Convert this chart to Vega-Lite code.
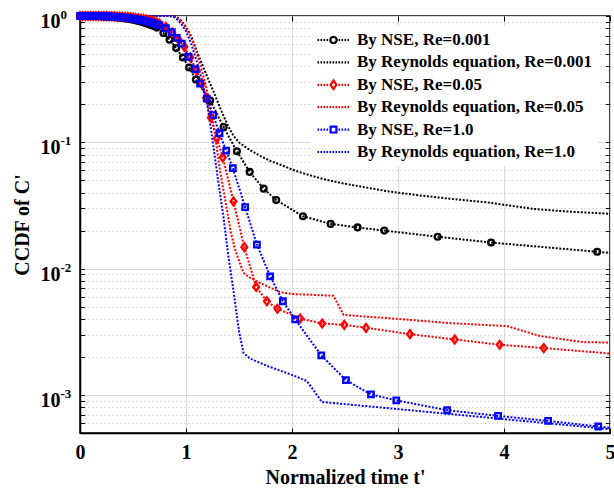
{
  "$schema": "https://vega.github.io/schema/vega-lite/v6.json",
  "width": 530,
  "height": 417,
  "autosize": {"type": "none"},
  "padding": {"left": 80, "top": 16, "right": 4, "bottom": 56},
  "background": "white",
  "config": {
    "font": "Liberation Serif",
    "view": {"stroke": "black", "strokeWidth": 1.5}
  },
  "datasets": {
    "curves": [
      {"s":"By NSE, Re=0.001","t":0,"c":1},{"s":"By NSE, Re=0.001","t":0.025,"c":1},{"s":"By NSE, Re=0.001","t":0.05,"c":1},{"s":"By NSE, Re=0.001","t":0.075,"c":1},{"s":"By NSE, Re=0.001","t":0.1,"c":0.999},{"s":"By NSE, Re=0.001","t":0.125,"c":0.998},{"s":"By NSE, Re=0.001","t":0.15,"c":0.997},{"s":"By NSE, Re=0.001","t":0.175,"c":0.996},{"s":"By NSE, Re=0.001","t":0.2,"c":0.995},{"s":"By NSE, Re=0.001","t":0.225,"c":0.993},{"s":"By NSE, Re=0.001","t":0.25,"c":0.99},{"s":"By NSE, Re=0.001","t":0.275,"c":0.987},{"s":"By NSE, Re=0.001","t":0.3,"c":0.984},{"s":"By NSE, Re=0.001","t":0.325,"c":0.98},{"s":"By NSE, Re=0.001","t":0.35,"c":0.975},{"s":"By NSE, Re=0.001","t":0.375,"c":0.97},{"s":"By NSE, Re=0.001","t":0.4,"c":0.964},{"s":"By NSE, Re=0.001","t":0.425,"c":0.957},{"s":"By NSE, Re=0.001","t":0.45,"c":0.95},{"s":"By NSE, Re=0.001","t":0.475,"c":0.942},{"s":"By NSE, Re=0.001","t":0.5,"c":0.933},{"s":"By NSE, Re=0.001","t":0.525,"c":0.924},{"s":"By NSE, Re=0.001","t":0.55,"c":0.913},{"s":"By NSE, Re=0.001","t":0.575,"c":0.902},{"s":"By NSE, Re=0.001","t":0.6,"c":0.89},{"s":"By NSE, Re=0.001","t":0.625,"c":0.876},{"s":"By NSE, Re=0.001","t":0.65,"c":0.862},{"s":"By NSE, Re=0.001","t":0.675,"c":0.846},{"s":"By NSE, Re=0.001","t":0.7,"c":0.83},{"s":"By NSE, Re=0.001","t":0.724,"c":0.81},{"s":"By NSE, Re=0.001","t":0.787,"c":0.733},{"s":"By NSE, Re=0.001","t":0.845,"c":0.65},{"s":"By NSE, Re=0.001","t":0.907,"c":0.557},{"s":"By NSE, Re=0.001","t":0.97,"c":0.469},{"s":"By NSE, Re=0.001","t":1.029,"c":0.391},{"s":"By NSE, Re=0.001","t":1.093,"c":0.314},{"s":"By NSE, Re=0.001","t":1.228,"c":0.214},{"s":"By NSE, Re=0.001","t":1.355,"c":0.132},{"s":"By NSE, Re=0.001","t":1.48,"c":0.0849},{"s":"By NSE, Re=0.001","t":1.601,"c":0.0583},{"s":"By NSE, Re=0.001","t":1.733,"c":0.043},{"s":"By NSE, Re=0.001","t":1.851,"c":0.0349},{"s":"By NSE, Re=0.001","t":2.103,"c":0.026},{"s":"By NSE, Re=0.001","t":2.365,"c":0.0226},{"s":"By NSE, Re=0.001","t":2.619,"c":0.0212},{"s":"By NSE, Re=0.001","t":2.871,"c":0.02},{"s":"By NSE, Re=0.001","t":3.374,"c":0.0179},{"s":"By NSE, Re=0.001","t":3.878,"c":0.0161},{"s":"By NSE, Re=0.001","t":4.879,"c":0.0136},{"s":"By NSE, Re=0.001","t":5,"c":0.0133},

      {"s":"By Reynolds equation, Re=0.001","t":0,"c":1},{"s":"By Reynolds equation, Re=0.001","t":0.5,"c":1},{"s":"By Reynolds equation, Re=0.001","t":0.85,"c":1},{"s":"By Reynolds equation, Re=0.001","t":0.9,"c":0.99},{"s":"By Reynolds equation, Re=0.001","t":0.95,"c":0.93},{"s":"By Reynolds equation, Re=0.001","t":1.0,"c":0.82},{"s":"By Reynolds equation, Re=0.001","t":1.05,"c":0.69},{"s":"By Reynolds equation, Re=0.001","t":1.117,"c":0.49},{"s":"By Reynolds equation, Re=0.001","t":1.2,"c":0.33},{"s":"By Reynolds equation, Re=0.001","t":1.275,"c":0.235},{"s":"By Reynolds equation, Re=0.001","t":1.33,"c":0.18},{"s":"By Reynolds equation, Re=0.001","t":1.4,"c":0.133},{"s":"By Reynolds equation, Re=0.001","t":1.45,"c":0.112},{"s":"By Reynolds equation, Re=0.001","t":1.5,"c":0.1},{"s":"By Reynolds equation, Re=0.001","t":1.6,"c":0.087},{"s":"By Reynolds equation, Re=0.001","t":1.7,"c":0.078},{"s":"By Reynolds equation, Re=0.001","t":1.8,"c":0.071},{"s":"By Reynolds equation, Re=0.001","t":1.9,"c":0.066},{"s":"By Reynolds equation, Re=0.001","t":2.0,"c":0.061},{"s":"By Reynolds equation, Re=0.001","t":2.1,"c":0.057},{"s":"By Reynolds equation, Re=0.001","t":2.3,"c":0.051},{"s":"By Reynolds equation, Re=0.001","t":2.5,"c":0.047},{"s":"By Reynolds equation, Re=0.001","t":2.9,"c":0.041},{"s":"By Reynolds equation, Re=0.001","t":3.2,"c":0.038},{"s":"By Reynolds equation, Re=0.001","t":3.5,"c":0.0357},{"s":"By Reynolds equation, Re=0.001","t":3.85,"c":0.0334},{"s":"By Reynolds equation, Re=0.001","t":4.0,"c":0.032},{"s":"By Reynolds equation, Re=0.001","t":4.3,"c":0.0296},{"s":"By Reynolds equation, Re=0.001","t":4.6,"c":0.0283},{"s":"By Reynolds equation, Re=0.001","t":5,"c":0.0272},

      {"s":"By NSE, Re=0.05","t":0,"c":1},{"s":"By NSE, Re=0.05","t":0.025,"c":1},{"s":"By NSE, Re=0.05","t":0.05,"c":1},{"s":"By NSE, Re=0.05","t":0.075,"c":1},{"s":"By NSE, Re=0.05","t":0.1,"c":1},{"s":"By NSE, Re=0.05","t":0.125,"c":1},{"s":"By NSE, Re=0.05","t":0.15,"c":1},{"s":"By NSE, Re=0.05","t":0.175,"c":0.999},{"s":"By NSE, Re=0.05","t":0.2,"c":0.999},{"s":"By NSE, Re=0.05","t":0.225,"c":0.998},{"s":"By NSE, Re=0.05","t":0.25,"c":0.997},{"s":"By NSE, Re=0.05","t":0.275,"c":0.996},{"s":"By NSE, Re=0.05","t":0.3,"c":0.995},{"s":"By NSE, Re=0.05","t":0.325,"c":0.993},{"s":"By NSE, Re=0.05","t":0.35,"c":0.991},{"s":"By NSE, Re=0.05","t":0.375,"c":0.989},{"s":"By NSE, Re=0.05","t":0.4,"c":0.986},{"s":"By NSE, Re=0.05","t":0.425,"c":0.983},{"s":"By NSE, Re=0.05","t":0.45,"c":0.979},{"s":"By NSE, Re=0.05","t":0.475,"c":0.975},{"s":"By NSE, Re=0.05","t":0.5,"c":0.97},{"s":"By NSE, Re=0.05","t":0.525,"c":0.965},{"s":"By NSE, Re=0.05","t":0.55,"c":0.959},{"s":"By NSE, Re=0.05","t":0.575,"c":0.952},{"s":"By NSE, Re=0.05","t":0.6,"c":0.945},{"s":"By NSE, Re=0.05","t":0.625,"c":0.936},{"s":"By NSE, Re=0.05","t":0.65,"c":0.926},{"s":"By NSE, Re=0.05","t":0.675,"c":0.915},{"s":"By NSE, Re=0.05","t":0.7,"c":0.902},{"s":"By NSE, Re=0.05","t":0.725,"c":0.887},{"s":"By NSE, Re=0.05","t":0.75,"c":0.87},{"s":"By NSE, Re=0.05","t":0.81,"c":0.82},{"s":"By NSE, Re=0.05","t":0.87,"c":0.74},{"s":"By NSE, Re=0.05","t":0.93,"c":0.65},{"s":"By NSE, Re=0.05","t":0.985,"c":0.57},{"s":"By NSE, Re=0.05","t":1.04,"c":0.47},{"s":"By NSE, Re=0.05","t":1.1,"c":0.37},{"s":"By NSE, Re=0.05","t":1.15,"c":0.29},{"s":"By NSE, Re=0.05","t":1.19,"c":0.225},{"s":"By NSE, Re=0.05","t":1.234,"c":0.157},{"s":"By NSE, Re=0.05","t":1.29,"c":0.1075},{"s":"By NSE, Re=0.05","t":1.347,"c":0.076},{"s":"By NSE, Re=0.05","t":1.448,"c":0.034},{"s":"By NSE, Re=0.05","t":1.55,"c":0.0148},{"s":"By NSE, Re=0.05","t":1.662,"c":0.00717},{"s":"By NSE, Re=0.05","t":1.763,"c":0.00552},{"s":"By NSE, Re=0.05","t":1.863,"c":0.00481},{"s":"By NSE, Re=0.05","t":2.077,"c":0.00403},{"s":"By NSE, Re=0.05","t":2.285,"c":0.00368},{"s":"By NSE, Re=0.05","t":2.493,"c":0.00359},{"s":"By NSE, Re=0.05","t":2.698,"c":0.0034},{"s":"By NSE, Re=0.05","t":3.113,"c":0.00303},{"s":"By NSE, Re=0.05","t":3.535,"c":0.00275},{"s":"By NSE, Re=0.05","t":3.959,"c":0.0025},{"s":"By NSE, Re=0.05","t":4.375,"c":0.00235},{"s":"By NSE, Re=0.05","t":5,"c":0.00213},

      {"s":"By Reynolds equation, Re=0.05","t":0,"c":1},{"s":"By Reynolds equation, Re=0.05","t":0.5,"c":1},{"s":"By Reynolds equation, Re=0.05","t":0.87,"c":1},{"s":"By Reynolds equation, Re=0.05","t":0.92,"c":0.97},{"s":"By Reynolds equation, Re=0.05","t":0.97,"c":0.88},{"s":"By Reynolds equation, Re=0.05","t":1.02,"c":0.76},{"s":"By Reynolds equation, Re=0.05","t":1.07,"c":0.61},{"s":"By Reynolds equation, Re=0.05","t":1.12,"c":0.45},{"s":"By Reynolds equation, Re=0.05","t":1.17,"c":0.32},{"s":"By Reynolds equation, Re=0.05","t":1.22,"c":0.216},{"s":"By Reynolds equation, Re=0.05","t":1.27,"c":0.12},{"s":"By Reynolds equation, Re=0.05","t":1.32,"c":0.06},{"s":"By Reynolds equation, Re=0.05","t":1.37,"c":0.035},{"s":"By Reynolds equation, Re=0.05","t":1.42,"c":0.02},{"s":"By Reynolds equation, Re=0.05","t":1.46,"c":0.0145},{"s":"By Reynolds equation, Re=0.05","t":1.5,"c":0.0115},{"s":"By Reynolds equation, Re=0.05","t":1.542,"c":0.0093},{"s":"By Reynolds equation, Re=0.05","t":1.6,"c":0.0085},{"s":"By Reynolds equation, Re=0.05","t":1.7,"c":0.0077},{"s":"By Reynolds equation, Re=0.05","t":1.889,"c":0.0065},{"s":"By Reynolds equation, Re=0.05","t":2.0,"c":0.0063},{"s":"By Reynolds equation, Re=0.05","t":2.392,"c":0.0061},{"s":"By Reynolds equation, Re=0.05","t":2.487,"c":0.0043},{"s":"By Reynolds equation, Re=0.05","t":3.0,"c":0.004},{"s":"By Reynolds equation, Re=0.05","t":3.5,"c":0.0037},{"s":"By Reynolds equation, Re=0.05","t":4.03,"c":0.00351},{"s":"By Reynolds equation, Re=0.05","t":4.344,"c":0.00292},{"s":"By Reynolds equation, Re=0.05","t":4.752,"c":0.00262},{"s":"By Reynolds equation, Re=0.05","t":5,"c":0.0026},

      {"s":"By NSE, Re=1.0","t":0,"c":1},{"s":"By NSE, Re=1.0","t":0.025,"c":1},{"s":"By NSE, Re=1.0","t":0.05,"c":1},{"s":"By NSE, Re=1.0","t":0.075,"c":1},{"s":"By NSE, Re=1.0","t":0.1,"c":0.999},{"s":"By NSE, Re=1.0","t":0.125,"c":0.999},{"s":"By NSE, Re=1.0","t":0.15,"c":0.998},{"s":"By NSE, Re=1.0","t":0.175,"c":0.997},{"s":"By NSE, Re=1.0","t":0.2,"c":0.996},{"s":"By NSE, Re=1.0","t":0.225,"c":0.995},{"s":"By NSE, Re=1.0","t":0.25,"c":0.993},{"s":"By NSE, Re=1.0","t":0.275,"c":0.991},{"s":"By NSE, Re=1.0","t":0.3,"c":0.989},{"s":"By NSE, Re=1.0","t":0.325,"c":0.986},{"s":"By NSE, Re=1.0","t":0.35,"c":0.983},{"s":"By NSE, Re=1.0","t":0.375,"c":0.979},{"s":"By NSE, Re=1.0","t":0.4,"c":0.975},{"s":"By NSE, Re=1.0","t":0.425,"c":0.97},{"s":"By NSE, Re=1.0","t":0.45,"c":0.965},{"s":"By NSE, Re=1.0","t":0.475,"c":0.959},{"s":"By NSE, Re=1.0","t":0.5,"c":0.953},{"s":"By NSE, Re=1.0","t":0.525,"c":0.946},{"s":"By NSE, Re=1.0","t":0.55,"c":0.938},{"s":"By NSE, Re=1.0","t":0.575,"c":0.93},{"s":"By NSE, Re=1.0","t":0.6,"c":0.921},{"s":"By NSE, Re=1.0","t":0.625,"c":0.911},{"s":"By NSE, Re=1.0","t":0.65,"c":0.9},{"s":"By NSE, Re=1.0","t":0.675,"c":0.888},{"s":"By NSE, Re=1.0","t":0.7,"c":0.875},{"s":"By NSE, Re=1.0","t":0.725,"c":0.86},{"s":"By NSE, Re=1.0","t":0.75,"c":0.845},{"s":"By NSE, Re=1.0","t":0.81,"c":0.8},{"s":"By NSE, Re=1.0","t":0.866,"c":0.746},{"s":"By NSE, Re=1.0","t":0.913,"c":0.67},{"s":"By NSE, Re=1.0","t":0.96,"c":0.604},{"s":"By NSE, Re=1.0","t":1.023,"c":0.474},{"s":"By NSE, Re=1.0","t":1.086,"c":0.38},{"s":"By NSE, Re=1.0","t":1.133,"c":0.292},{"s":"By NSE, Re=1.0","t":1.196,"c":0.222},{"s":"By NSE, Re=1.0","t":1.256,"c":0.164},{"s":"By NSE, Re=1.0","t":1.316,"c":0.118},{"s":"By NSE, Re=1.0","t":1.379,"c":0.0859},{"s":"By NSE, Re=1.0","t":1.442,"c":0.0624},{"s":"By NSE, Re=1.0","t":1.558,"c":0.0307},{"s":"By NSE, Re=1.0","t":1.669,"c":0.0155},{"s":"By NSE, Re=1.0","t":1.794,"c":0.00869},{"s":"By NSE, Re=1.0","t":1.914,"c":0.00552},{"s":"By NSE, Re=1.0","t":2.03,"c":0.00396},{"s":"By NSE, Re=1.0","t":2.276,"c":0.00206},{"s":"By NSE, Re=1.0","t":2.509,"c":0.00131},{"s":"By NSE, Re=1.0","t":2.745,"c":0.00101},{"s":"By NSE, Re=1.0","t":2.984,"c":0.000908},{"s":"By NSE, Re=1.0","t":3.463,"c":0.000757},{"s":"By NSE, Re=1.0","t":3.944,"c":0.000683},{"s":"By NSE, Re=1.0","t":4.416,"c":0.000623},{"s":"By NSE, Re=1.0","t":4.889,"c":0.000563},{"s":"By NSE, Re=1.0","t":5,"c":0.00055},

      {"s":"By Reynolds equation, Re=1.0","t":0,"c":1},{"s":"By Reynolds equation, Re=1.0","t":0.5,"c":1},{"s":"By Reynolds equation, Re=1.0","t":0.85,"c":1},{"s":"By Reynolds equation, Re=1.0","t":0.9,"c":0.97},{"s":"By Reynolds equation, Re=1.0","t":0.95,"c":0.88},{"s":"By Reynolds equation, Re=1.0","t":1.0,"c":0.76},{"s":"By Reynolds equation, Re=1.0","t":1.05,"c":0.6},{"s":"By Reynolds equation, Re=1.0","t":1.1,"c":0.44},{"s":"By Reynolds equation, Re=1.0","t":1.15,"c":0.31},{"s":"By Reynolds equation, Re=1.0","t":1.2,"c":0.2},{"s":"By Reynolds equation, Re=1.0","t":1.25,"c":0.105},{"s":"By Reynolds equation, Re=1.0","t":1.3,"c":0.052},{"s":"By Reynolds equation, Re=1.0","t":1.35,"c":0.027},{"s":"By Reynolds equation, Re=1.0","t":1.4,"c":0.0125},{"s":"By Reynolds equation, Re=1.0","t":1.45,"c":0.0065},{"s":"By Reynolds equation, Re=1.0","t":1.5,"c":0.0032},{"s":"By Reynolds equation, Re=1.0","t":1.542,"c":0.00216},{"s":"By Reynolds equation, Re=1.0","t":1.6,"c":0.00195},{"s":"By Reynolds equation, Re=1.0","t":1.763,"c":0.0017},{"s":"By Reynolds equation, Re=1.0","t":1.983,"c":0.00146},{"s":"By Reynolds equation, Re=1.0","t":2.14,"c":0.00129},{"s":"By Reynolds equation, Re=1.0","t":2.2,"c":0.0011},{"s":"By Reynolds equation, Re=1.0","t":2.282,"c":0.00088},{"s":"By Reynolds equation, Re=1.0","t":3.02,"c":0.00077},{"s":"By Reynolds equation, Re=1.0","t":4.28,"c":0.000612},{"s":"By Reynolds equation, Re=1.0","t":5,"c":0.000536}
    ]
  },
  "data": {"name": "curves"},
  "resolve": {"axis": {"x": "independent", "y": "independent"}},
  "layer": [
    {
      "mark": {"type": "line", "strokeWidth": 2, "strokeDash": [2, 1.6]},
      "encoding": {
        "x": {
          "field": "t", "type": "quantitative",
          "scale": {"domain": [0, 5], "nice": false, "zero": false},
          "axis": {
            "orient": "bottom", "values": [0, 1, 2, 3, 4, 5], "format": "d",
            "grid": true, "gridColor": "#dadada", "gridWidth": 1,
            "tickSize": -5, "tickColor": "black", "tickWidth": 1,
            "domainColor": "black", "domainWidth": 1.5,
            "labelFontSize": 20, "labelFontWeight": "bold", "labelColor": "black",
            "labelPadding": 14, "labelFlush": false,
            "title": "Normalized time t'", "titleFontSize": 20, "titleFontWeight": "bold",
            "titleColor": "black", "titlePadding": 5
          }
        },
        "y": {
          "field": "c", "type": "quantitative",
          "scale": {"type": "log", "domain": [0.0005, 1], "nice": false},
          "axis": {
            "orient": "left",
            "values": [1, 0.9, 0.8, 0.7, 0.6, 0.5, 0.4, 0.3, 0.2, 0.1, 0.09, 0.08, 0.07, 0.06, 0.05, 0.04, 0.03, 0.02, 0.01, 0.009, 0.008, 0.007, 0.006, 0.005, 0.004, 0.003, 0.002, 0.001, 0.0009, 0.0008, 0.0007, 0.0006, 0.0005],
            "labelExpr": "abs(log(datum.value)/LN10 - round(log(datum.value)/LN10)) < 0.01 ? '10' : ''",
            "grid": true,
            "gridColor": {"condition": {"test": "abs(log(datum.value)/LN10 - round(log(datum.value)/LN10)) < 0.01", "value": "#dadada"}, "value": "#cfcfcf"},
            "gridDash": {"condition": {"test": "abs(log(datum.value)/LN10 - round(log(datum.value)/LN10)) < 0.01", "value": []}, "value": [1.5, 2.5]},
            "gridWidth": 1,
            "tickSize": -4.5, "tickColor": "black", "tickWidth": 1,
            "domainColor": "black", "domainWidth": 1.5,
            "labelFontSize": 20, "labelFontWeight": "bold", "labelColor": "black",
            "labelAlign": "right", "labelBaseline": "middle", "labelOffset": 5.5,
            "labelPadding": 24.5, "labelOverlap": false, "labelBound": false,
            "title": "CCDF of C'", "titleFontSize": 20, "titleFontWeight": "bold",
            "titleColor": "black", "titlePadding": 8
          }
        },
        "color": {
          "field": "s", "type": "nominal",
          "scale": {
            "domain": ["By NSE, Re=0.001", "By Reynolds equation, Re=0.001", "By NSE, Re=0.05", "By Reynolds equation, Re=0.05", "By NSE, Re=1.0", "By Reynolds equation, Re=1.0"],
            "range": ["#000000", "#000000", "#ff0000", "#ff0000", "#0000ff", "#0000ff"]
          },
          "legend": {
            "orient": "none", "legendX": 230, "legendY": 10,
            "title": null, "fillColor": "white", "padding": 6,
            "labelFontSize": 17, "labelFontWeight": "bold", "labelColor": "black",
            "labelLimit": 400, "labelOffset": 6,
            "symbolType": "circle", "symbolSize": 1024, "symbolStrokeWidth": 2,
            "clipHeight": 16, "rowPadding": 5.4,
            "encode": {
              "symbols": {
                "update": {
                  "shape": {"signal": "datum.value === 'By NSE, Re=0.001' ? 'M-1,0h0.1M-0.8125,0h0.1M-0.625,0h0.1M-0.4375,0h0.1M0.3125,0h0.1M0.5,0h0.1M0.6875,0h0.1M0.875,0h0.1M0.2,0L0.173,0.1L0.1,0.173L0,0.2L-0.1,0.173L-0.173,0.1L-0.2,0L-0.173,-0.1L-0.1,-0.173L0,-0.2L0.1,-0.173L0.173,-0.1Z' : datum.value === 'By NSE, Re=0.05' ? 'M-1,0h0.1M-0.8125,0h0.1M-0.625,0h0.1M-0.4375,0h0.1M0.3125,0h0.1M0.5,0h0.1M0.6875,0h0.1M0.875,0h0.1M0,-0.27L0.18,0L0,0.27L-0.18,0Z' : datum.value === 'By NSE, Re=1.0' ? 'M-1,0h0.1M-0.8125,0h0.1M-0.625,0h0.1M-0.4375,0h0.1M0.3125,0h0.1M0.5,0h0.1M0.6875,0h0.1M0.875,0h0.1M-0.18,-0.18L0.18,-0.18L0.18,0.18L-0.18,0.18Z' : 'M-1,0h0.1M-0.8125,0h0.1M-0.625,0h0.1M-0.4375,0h0.1M-0.25,0h0.1M-0.0625,0h0.1M0.125,0h0.1M0.3125,0h0.1M0.5,0h0.1M0.6875,0h0.1M0.875,0h0.1'"},
                  "fill": {"value": "transparent"},
                  "strokeDash": {"value": []},
                  "strokeWidth": {"value": 2.2},
                  "opacity": {"value": 1}
                }
              }
            }
          }
        }
      }
    },
    {
      "transform": [{"filter": "datum.s === 'By NSE, Re=0.001' && datum.t < 4.95"}],
      "mark": {"type": "point", "shape": "circle", "filled": false, "strokeWidth": 2.3, "size": 34, "color": "#000000", "opacity": 1},
      "encoding": {
        "x": {
          "field": "t", "type": "quantitative",
          "axis": {"orient": "top", "values": [0, 1, 2, 3, 4, 5], "labels": false, "grid": false, "domain": false, "tickSize": -5, "tickColor": "black", "title": null}
        },
        "y": {
          "field": "c", "type": "quantitative",
          "axis": {
            "orient": "right",
            "values": [1, 0.9, 0.8, 0.7, 0.6, 0.5, 0.4, 0.3, 0.2, 0.1, 0.09, 0.08, 0.07, 0.06, 0.05, 0.04, 0.03, 0.02, 0.01, 0.009, 0.008, 0.007, 0.006, 0.005, 0.004, 0.003, 0.002, 0.001, 0.0009, 0.0008, 0.0007, 0.0006, 0.0005],
            "labels": false, "grid": false, "domain": false, "tickSize": -4.5, "tickColor": "black", "title": null
          }
        }
      }
    },
    {
      "transform": [{"filter": "datum.s === 'By NSE, Re=0.05' && datum.t < 4.95"}],
      "mark": {"type": "point", "shape": "M0,-1.2L0.9,0L0,1.2L-0.9,0Z", "filled": false, "strokeWidth": 2.3, "size": 42, "color": "#ff0000", "opacity": 1},
      "encoding": {
        "x": {"field": "t", "type": "quantitative", "axis": null},
        "y": {"field": "c", "type": "quantitative", "axis": null}
      }
    },
    {
      "transform": [{"filter": "datum.s === 'By NSE, Re=1.0' && datum.t < 4.95"}],
      "mark": {"type": "point", "shape": "square", "filled": false, "strokeWidth": 2.3, "size": 30, "color": "#0000ff", "opacity": 1},
      "encoding": {
        "x": {"field": "t", "type": "quantitative", "axis": null},
        "y": {"field": "c", "type": "quantitative", "axis": null}
      }
    },
    {
      "mark": {"type": "point", "opacity": 0},
      "encoding": {
        "x": {"field": "t", "type": "quantitative", "axis": null},
        "y": {
          "field": "c", "type": "quantitative",
          "axis": {
            "orient": "left", "values": [1, 0.1, 0.01, 0.001],
            "labelExpr": "datum.value > 0.5 ? '0' : datum.value > 0.05 ? '-1' : datum.value > 0.005 ? '-2' : '-3'",
            "ticks": false, "domain": false, "grid": false,
            "labelAlign": "left", "labelBaseline": "middle", "labelOffset": -1.5,
            "labelPadding": 20, "labelFontSize": 13, "labelFontWeight": "bold", "labelColor": "black",
            "labelOverlap": false, "labelBound": false, "title": null
          }
        }
      }
    }
  ]
}
